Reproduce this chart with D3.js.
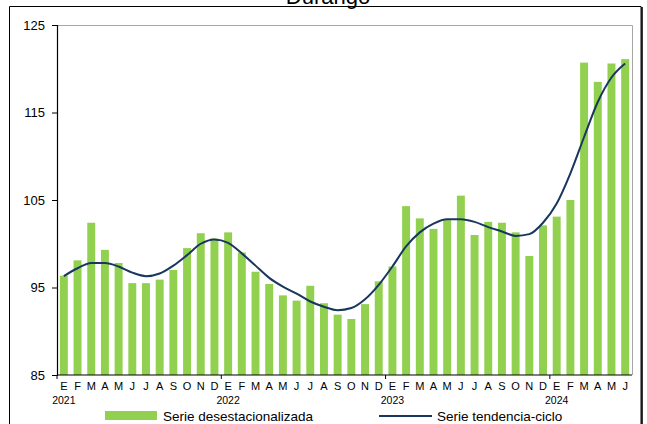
<!DOCTYPE html>
<html>
<head>
<meta charset="utf-8">
<script src="https://cdn.jsdelivr.net/npm/d3@7"></script>
<style>
  body { margin: 0; background: #fff; }
  svg { display: block; font-family: "Liberation Sans", Arial, sans-serif; }
</style>
</head>
<body>
<div id="chart"></div>
<script>
// monthly labels, Jan 2021 .. Jun 2024
const monthLetters = ["E","F","M","A","M","J","J","A","S","O","N","D"];
const years = [2021, 2022, 2023, 2024];
const months = d3.range(42).map(i => ({ i: i, m: monthLetters[i % 12], y: years[Math.floor(i / 12)] }));

const desest = [
  96.35, 98.1, 102.4, 99.3, 97.8, 95.5, 95.5, 95.9, 97.0, 99.5, 101.2, 100.6,
  101.3, 99.0, 96.8, 95.4, 94.1, 93.5, 95.2, 93.2, 91.9, 91.4, 93.1, 95.7,
  97.4, 104.3, 102.9, 101.7, 102.7, 105.5, 101.0, 102.5, 102.4, 101.3, 98.6, 102.1,
  103.1, 105.0, 120.7, 118.5, 120.6, 121.1
];
const tendencia = [
  96.3, 97.2, 97.8, 97.8, 97.4, 96.7, 96.3, 96.6, 97.5, 98.7, 100.0, 100.5,
  100.1, 98.9, 97.5, 96.1, 95.1, 94.3, 93.4, 92.8, 92.4, 92.65, 93.65, 95.3,
  97.4, 99.7, 101.3, 102.3, 102.8, 102.8, 102.5, 101.9, 101.4, 100.9, 101.1, 102.4,
  104.6, 108.05, 112.2, 116.2, 119.0, 120.6
];
const yTicks = [85, 95, 105, 115, 125];

const W = 647, H = 424;
const pLeft = 57, pRight = 632, pTop = 25, pBottom = 375;

const svg = d3.select("#chart").append("svg")
  .attr("width", W).attr("height", H);

// outer frame
svg.append("path")
  .attr("d", `M9.5,${H + 2}V6.5H641V${H + 2}`)
  .attr("fill", "none").attr("stroke", "#000").attr("stroke-width", 1);
svg.append("line")
  .attr("x1", 642).attr("x2", 642).attr("y1", 7).attr("y2", H + 2)
  .attr("stroke", "#000").attr("stroke-width", 1.6);

// title (clipped at top, as in the source)
svg.append("text")
  .attr("x", 328).attr("y", 4)
  .attr("text-anchor", "middle")
  .attr("font-size", 22)
  .attr("fill", "#000")
  .text("Durango");

const x = d3.scaleBand()
  .domain(months.map(d => d.i))
  .range([pLeft, pRight])
  .paddingInner(0.42).paddingOuter(0.21);

const y = d3.scaleLinear()
  .domain([85, 125])
  .range([pBottom, pTop]);

// plot area border (grey)
svg.append("path")
  .attr("d", `M${pLeft},${pTop + 0.5}H${pRight + 0.5}V${pBottom}`)
  .attr("fill", "none").attr("stroke", "#a6a6a6").attr("stroke-width", 1);

// bars
svg.append("g")
  .selectAll("rect")
  .data(desest)
  .join("rect")
  .attr("x", (d, i) => x(i))
  .attr("width", x.bandwidth())
  .attr("y", d => y(d))
  .attr("height", d => y(85) - y(d))
  .attr("fill", "#92d050");

// trend line
svg.append("path")
  .datum(tendencia)
  .attr("fill", "none")
  .attr("stroke", "#17375e")
  .attr("stroke-width", 2)
  .attr("d", d3.line()
    .x((d, i) => x(i) + x.bandwidth() / 2)
    .y(d => y(d))
    .curve(d3.curveMonotoneX));

// y axis
const yAxis = svg.append("g")
  .attr("transform", `translate(${pLeft},0)`)
  .call(d3.axisLeft(y).tickValues(yTicks).tickSize(5).tickPadding(7).tickFormat(d3.format("d")));
yAxis.select(".domain").attr("stroke", "#000").attr("stroke-width", 1.2);
yAxis.selectAll("text").attr("font-size", 13).attr("fill", "#000")
  .attr("font-family", "Liberation Sans, Arial, sans-serif");

// x axis: line plus tick marks at each January boundary
const step = x.step();
const xg = svg.append("g");
xg.append("line")
  .attr("x1", pLeft).attr("x2", pRight)
  .attr("y1", pBottom).attr("y2", pBottom)
  .attr("stroke", "#000").attr("stroke-width", 1.2);
xg.selectAll(".yt")
  .data(months.filter(d => d.i % 12 === 0))
  .join("line")
  .attr("x1", d => x(d.i) - x.paddingOuter() * step)
  .attr("x2", d => x(d.i) - x.paddingOuter() * step)
  .attr("y1", pBottom).attr("y2", pBottom + 4)
  .attr("stroke", "#000");

xg.selectAll(".ml")
  .data(months)
  .join("text")
  .attr("x", d => x(d.i) + x.bandwidth() / 2)
  .attr("y", pBottom + 15)
  .attr("text-anchor", "middle")
  .attr("font-size", 11)
  .attr("fill", "#000")
  .text(d => d.m);

xg.selectAll(".yl")
  .data(months.filter(d => d.i % 12 === 0))
  .join("text")
  .attr("x", d => x(d.i) + x.bandwidth() / 2)
  .attr("y", pBottom + 29)
  .attr("text-anchor", "middle")
  .attr("font-size", 10.5)
  .attr("fill", "#000")
  .text(d => d.y);

// legend
const lg = svg.append("g");
lg.append("rect")
  .attr("x", 105).attr("y", 411).attr("width", 52).attr("height", 9)
  .attr("fill", "#92d050");
lg.append("text")
  .attr("x", 163).attr("y", 421)
  .attr("font-size", 13.5).attr("fill", "#000")
  .text("Serie desestacionalizada");
lg.append("line")
  .attr("x1", 379).attr("x2", 432).attr("y1", 416).attr("y2", 416)
  .attr("stroke", "#17375e").attr("stroke-width", 2);
lg.append("text")
  .attr("x", 437).attr("y", 421)
  .attr("font-size", 13.5).attr("fill", "#000")
  .text("Serie tendencia-ciclo");
</script>
</body>
</html>
